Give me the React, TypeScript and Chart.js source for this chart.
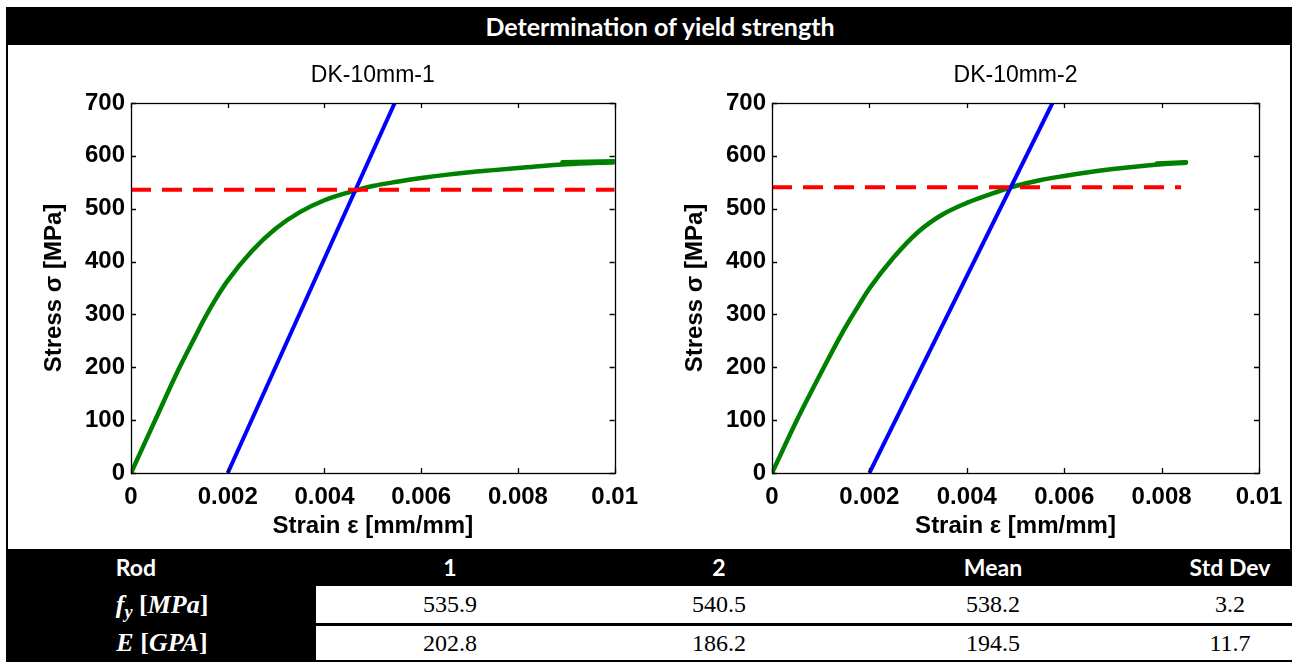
import React, { useEffect, useRef } from "react";
import { Chart, registerables } from "chart.js";

Chart.register(...registerables);

// ---------- data ----------
const xTickValues = [0, 0.002, 0.004, 0.006, 0.008, 0.01];
const xTickLabels = ["0", "0.002", "0.004", "0.006", "0.008", "0.01"];
const yTickValues = [0, 100, 200, 300, 400, 500, 600, 700];
const yTickLabels = ["0", "100", "200", "300", "400", "500", "600", "700"];

const chartTitles = ["DK-10mm-1", "DK-10mm-2"];
const xAxisTitle = "Strain ε [mm/mm]";
const yAxisTitle = "Stress σ [MPa]";
const mainTitle = "Determination of yield strength";

// Rod 1 stress-strain curve
const rod1Strain = [0, 0.0005, 0.001, 0.00135, 0.0015, 0.00175, 0.002, 0.0025, 0.003, 0.0035, 0.004, 0.0045, 0.005, 0.0055, 0.006, 0.0065, 0.007, 0.0075, 0.008, 0.0085, 0.009, 0.01];
const rod1Stress = [0, 100, 199, 262, 289, 329, 364, 420, 463, 494, 516, 531, 543, 551, 558, 564, 569, 573, 577, 581, 584, 588];
// Rod 1 short overlapping tail near the end of the record
const rod1TailStrain = [0.00892, 0.01];
const rod1TailStress = [588, 590];
// Rod 1 0.2% offset line
const rod1OffsetStrain = [0.002, 0.005452];
const rod1OffsetStress = [0, 700];
// Rod 1 yield level
const rod1YieldStrain = [0, 0.01];
const rod1YieldStress = [535.9, 535.9];

// Rod 2 stress-strain curve
const rod2Strain = [0, 0.0005, 0.00106, 0.0014, 0.0016, 0.0018, 0.002, 0.0025, 0.003, 0.0035, 0.004, 0.0045, 0.005, 0.0055, 0.006, 0.0065, 0.007, 0.0075, 0.008, 0.0085];
const rod2Stress = [0, 98, 199, 258, 290, 320, 349, 408, 456, 489, 511, 528, 543, 554, 562, 569, 575, 580, 584, 587];
// Rod 2 short overlapping tail
const rod2TailStrain = [0.0079, 0.0085];
const rod2TailStress = [585.5, 588];
// Rod 2 0.2% offset line
const rod2OffsetStrain = [0.002, 0.005759];
const rod2OffsetStress = [0, 700];
// Rod 2 yield level
const rod2YieldStrain = [0, 0.0084];
const rod2YieldStress = [540.5, 540.5];

// Table
const tableHeaders = ["Rod", "1", "2", "Mean", "Std Dev"];
const fyValues = ["535.9", "540.5", "538.2", "3.2"];
const eValues = ["202.8", "186.2", "194.5", "11.7"];

// ---------- helpers ----------
const FONT = "'Liberation Sans', Arial, Helvetica, sans-serif";
const zip = (xs: number[], ys: number[]) => xs.map((x, i) => ({ x, y: ys[i] }));

const frameTicks = {
  id: "frameTicks",
  afterDraw(chart: any) {
    const { ctx, chartArea } = chart;
    const { left, right, top, bottom } = chartArea;
    const xs = chart.scales.x;
    const ys = chart.scales.y;
    const len = 5;
    ctx.save();
    ctx.strokeStyle = "#000";
    ctx.lineWidth = 1.3;
    ctx.strokeRect(Math.round(left) + 0.5, Math.round(top) + 0.5, Math.round(right - left), Math.round(bottom - top));
    ctx.beginPath();
    xs.ticks.forEach((t: any) => {
      const px = Math.round(xs.getPixelForValue(t.value)) + 0.5;
      ctx.moveTo(px, bottom);
      ctx.lineTo(px, bottom - len);
      ctx.moveTo(px, top);
      ctx.lineTo(px, top + len);
    });
    ys.ticks.forEach((t: any) => {
      const py = Math.round(ys.getPixelForValue(t.value)) + 0.5;
      ctx.moveTo(left, py);
      ctx.lineTo(left + len, py);
      ctx.moveTo(right, py);
      ctx.lineTo(right - len, py);
    });
    ctx.stroke();
    ctx.restore();
  },
};

type PanelProps = {
  title: string;
  strain: number[];
  stress: number[];
  tailStrain: number[];
  tailStress: number[];
  offStrain: number[];
  offStress: number[];
  yldStrain: number[];
  yldStress: number[];
  left: number;
  padLeft: number;
  padRight: number;
};

const CW = 648;
const CH = 502;

function Panel(p: PanelProps) {
  const ref = useRef<HTMLCanvasElement | null>(null);
  useEffect(() => {
    if (!ref.current) return;
    const tickFont = { family: FONT, size: 24, weight: "bold" as const };
    const green = {
      showLine: true,
      borderColor: "#008000",
      borderWidth: 4.5,
      borderCapStyle: "round",
      borderJoinStyle: "round",
      cubicInterpolationMode: "monotone",
      pointRadius: 0,
    };
    const chart = new Chart(ref.current, {
      type: "scatter",
      data: {
        datasets: [
          {
            data: zip(p.yldStrain, p.yldStress),
            showLine: true,
            borderColor: "#ff0000",
            borderWidth: 4,
            borderDash: [20, 11],
            pointRadius: 0,
          },
          {
            data: zip(p.offStrain, p.offStress),
            showLine: true,
            borderColor: "#0000ff",
            borderWidth: 4,
            pointRadius: 0,
          },
          { ...green, data: zip(p.strain, p.stress) },
          { ...green, data: zip(p.tailStrain, p.tailStress) },
        ],
      },
      options: {
        animation: false,
        responsive: false,
        events: [],
        layout: { padding: { left: p.padLeft, right: p.padRight, top: 0, bottom: 7.6 } },
        plugins: {
          legend: { display: false },
          tooltip: { enabled: false },
          title: {
            display: true,
            text: p.title,
            fullSize: false,
            color: "#000",
            font: { family: FONT, size: 23, weight: "normal" },
            padding: { top: 15.9, bottom: 13.5 },
          },
        },
        scales: {
          x: {
            type: "linear",
            min: 0,
            max: 0.01,
            afterBuildTicks: (s: any) => {
              s.ticks = xTickValues.map((v) => ({ value: v }));
            },
            afterFit: (s: any) => {
              s.height = 67.4;
            },
            ticks: {
              callback: (_v: any, i: number) => xTickLabels[i],
              font: tickFont,
              color: "#000",
              padding: 10,
              maxRotation: 0,
              autoSkip: false,
            },
            grid: { display: false, drawTicks: false },
            border: { display: false },
            title: {
              display: true,
              text: xAxisTitle,
              color: "#000",
              font: tickFont,
              padding: { top: 0, bottom: 0 },
            },
          },
          y: {
            type: "linear",
            min: 0,
            max: 700,
            afterBuildTicks: (s: any) => {
              s.ticks = yTickValues.map((v) => ({ value: v }));
            },
            afterFit: (s: any) => {
              s.width = 95;
            },
            ticks: {
              callback: (_v: any, i: number) => yTickLabels[i],
              font: tickFont,
              color: "#000",
              padding: 6,
              autoSkip: false,
            },
            grid: { display: false, drawTicks: false },
            border: { display: false },
            title: {
              display: true,
              text: yAxisTitle,
              color: "#000",
              font: tickFont,
              padding: { top: 3.6, bottom: 0 },
            },
          },
        },
      },
      plugins: [frameTicks],
    } as any);
    return () => chart.destroy();
  }, []);
  return (
    <canvas
      ref={ref}
      width={CW}
      height={CH}
      style={{ position: "absolute", left: p.left, top: 46, width: CW, height: CH }}
    />
  );
}

const headerFont = "Lato, 'Open Sans', sans-serif";
const serifFont = "'Liberation Serif', 'DejaVu Serif', serif";
const colCenters = [136, 450, 719, 993, 1230];

function Cell(props: { cx: number; top: number; h: number; color: string; font: string; size: number; weight?: number; children: any }) {
  return (
    <div
      style={{
        position: "absolute",
        left: props.cx - 120,
        width: 240,
        top: props.top,
        height: props.h,
        lineHeight: props.h + "px",
        textAlign: "center",
        color: props.color,
        fontFamily: props.font,
        fontSize: props.size,
        fontWeight: props.weight ?? 400,
        whiteSpace: "nowrap",
      }}
    >
      {props.children}
    </div>
  );
}

export default function App() {
  return (
    <div style={{ position: "fixed", left: 0, top: 0, width: 1298, height: 662, background: "#fff", overflow: "hidden" }}>
      {/* title bar */}
      <div style={{ position: "absolute", left: 6, top: 7, width: 1286, height: 38, background: "#000" }} />
      <div
        style={{
          position: "absolute",
          left: 360,
          width: 600,
          top: 7,
          height: 38,
          lineHeight: "38px",
          textAlign: "center",
          color: "#fff",
          fontFamily: headerFont,
          fontWeight: 700,
          fontSize: 25,
        }}
      >
        {mainTitle}
      </div>
      {/* frame side lines */}
      <div style={{ position: "absolute", left: 6, top: 45, width: 2, height: 505, background: "#000" }} />
      <div style={{ position: "absolute", left: 1290, top: 45, width: 2, height: 505, background: "#000" }} />

      <Panel
        title={chartTitles[0]}
        strain={rod1Strain}
        stress={rod1Stress}
        tailStrain={rod1TailStrain}
        tailStress={rod1TailStress}
        offStrain={rod1OffsetStrain}
        offStress={rod1OffsetStress}
        yldStrain={rod1YieldStrain}
        yldStress={rod1YieldStress}
        left={0}
        padLeft={36}
        padRight={30}
      />
      <Panel
        title={chartTitles[1]}
        strain={rod2Strain}
        stress={rod2Stress}
        tailStrain={rod2TailStrain}
        tailStress={rod2TailStress}
        offStrain={rod2OffsetStrain}
        offStress={rod2OffsetStress}
        yldStrain={rod2YieldStrain}
        yldStress={rod2YieldStress}
        left={650}
        padLeft={27}
        padRight={39}
      />

      {/* table */}
      <div style={{ position: "absolute", left: 6, top: 549, width: 1286, height: 113, background: "#000" }} />
      <div style={{ position: "absolute", left: 316, top: 586, width: 976, height: 37, background: "#fff" }} />
      <div style={{ position: "absolute", left: 316, top: 626, width: 976, height: 34, background: "#fff" }} />
      {tableHeaders.map((h, i) => (
        <Cell key={"h" + i} cx={colCenters[i]} top={549} h={36} color="#fff" font={headerFont} size={23} weight={700}>
          {h}
        </Cell>
      ))}
      <Cell cx={162} top={586} h={37} color="#fff" font={serifFont} size={26} weight={700}>
        <i>f</i>
        <sub style={{ fontSize: "0.7em", fontStyle: "italic", verticalAlign: "-0.25em" }}>y</sub> [<i>MPa</i>]
      </Cell>
      <Cell cx={162} top={626} h={34} color="#fff" font={serifFont} size={26} weight={700}>
        <i>E</i> [<i>GPA</i>]
      </Cell>
      {fyValues.map((v, i) => (
        <Cell key={"f" + i} cx={colCenters[i + 1]} top={586} h={37} color="#000" font={serifFont} size={24}>
          {v}
        </Cell>
      ))}
      {eValues.map((v, i) => (
        <Cell key={"e" + i} cx={colCenters[i + 1]} top={626} h={34} color="#000" font={serifFont} size={24}>
          {v}
        </Cell>
      ))}
    </div>
  );
}
